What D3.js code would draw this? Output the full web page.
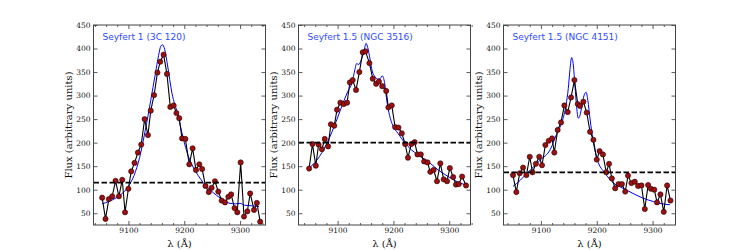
<!DOCTYPE html>
<html>
<head>
<meta charset="utf-8">
<script src="https://cdn.jsdelivr.net/npm/d3@7"></script>
<style>
  body { margin: 0; background: #fff; }
  svg { display: block; }
</style>
</head>
<body>
<svg id="chart" width="750" height="250"></svg>
<script>
// --- data ---
const titles = ['Seyfert 1 (3C 120)', 'Seyfert 1.5 (NGC 3516)', 'Seyfert 1.5 (NGC 4151)'];

const lambda1 = [9053, 9059, 9065, 9071, 9077, 9083, 9089, 9094, 9100, 9105, 9111, 9117, 9123, 9129, 9135, 9140, 9146, 9152, 9157, 9163, 9169, 9175, 9181, 9186, 9191, 9196, 9202, 9209, 9215, 9221, 9227, 9232, 9238, 9244, 9249, 9255, 9261, 9267, 9273, 9279, 9284, 9290, 9295, 9301, 9307, 9313, 9318, 9325, 9330, 9336];
const flux1 = [83, 38, 80, 86, 119, 86, 121, 52, 102, 139, 157, 179, 196, 250, 216, 268, 301, 349, 372, 387, 346, 276, 279, 263, 252, 209, 208, 154, 188, 142, 154, 144, 108, 95, 104, 118, 96, 77, 73, 85, 90, 61, 52, 158, 43, 54, 92, 57, 72, 32];

const lambda2 = [9049, 9055, 9061, 9066, 9072, 9077, 9083, 9088, 9094, 9099, 9105, 9111, 9117, 9122, 9127, 9133, 9139, 9145, 9150, 9157, 9163, 9169, 9174, 9180, 9187, 9191, 9197, 9203, 9209, 9215, 9221, 9226, 9232, 9238, 9243, 9249, 9255, 9261, 9266, 9272, 9278, 9284, 9290, 9296, 9301, 9307, 9312, 9317, 9323, 9330];
const flux2 = [145, 197, 151, 196, 186, 208, 192, 239, 236, 270, 285, 282, 285, 328, 333, 312, 350, 392, 394, 369, 336, 325, 330, 320, 310, 275, 279, 233, 232, 220, 197, 168, 197, 201, 175, 175, 160, 158, 138, 142, 118, 156, 122, 118, 146, 127, 111, 112, 128, 109];

const lambda3 = [9050, 9056, 9062, 9068, 9074, 9080, 9085, 9091, 9097, 9102, 9108, 9114, 9120, 9124, 9130, 9136, 9142, 9148, 9154, 9160, 9166, 9170, 9176, 9182, 9188, 9194, 9200, 9205, 9211, 9217, 9222, 9227, 9233, 9239, 9245, 9251, 9256, 9262, 9268, 9274, 9280, 9286, 9292, 9297, 9303, 9308, 9314, 9320, 9326, 9332];
const flux3 = [131, 95, 135, 147, 131, 170, 137, 155, 170, 152, 195, 204, 209, 179, 227, 243, 279, 265, 296, 333, 282, 278, 287, 264, 223, 206, 164, 182, 175, 137, 155, 124, 103, 112, 112, 96, 130, 114, 117, 108, 109, 59, 110, 102, 100, 73, 90, 53, 109, 77];

// blue model curves
const fitLambda1 = [9053, 9065, 9080, 9090, 9100, 9110, 9120, 9130, 9140, 9148, 9154, 9158, 9161, 9165, 9170, 9178, 9188, 9198, 9207, 9216, 9225, 9234, 9246, 9258, 9270, 9282, 9292, 9300, 9308, 9320, 9334];
const fitFlux1 = [70, 75, 84, 93, 107, 130, 168, 225, 290, 345, 385, 405, 408, 398, 365, 305, 262, 210, 172, 148, 130, 115, 100, 88, 78, 71, 70, 71, 67, 66, 64];

const fitLambda2 = [9049, 9063, 9081, 9099, 9110, 9118, 9126, 9131, 9134, 9138, 9142, 9147, 9151, 9154, 9158, 9162, 9167, 9172, 9176, 9180, 9184, 9188, 9193, 9199, 9208, 9220, 9232, 9244, 9262, 9280, 9298, 9316, 9330];
const fitFlux2 = [146, 163, 199, 250, 285, 308, 328, 355, 368, 366, 375, 393, 411, 402, 378, 352, 340, 335, 336, 342, 328, 290, 258, 236, 220, 200, 185, 174, 160, 142, 128, 116, 110];

const fitLambda3 = [9050, 9063, 9081, 9099, 9117, 9128, 9138, 9145, 9149, 9152, 9155, 9158, 9161, 9164, 9167, 9170, 9174, 9178, 9181, 9184, 9188, 9194, 9201, 9215, 9230, 9247, 9265, 9283, 9301, 9313, 9331];
const fitFlux3 = [107, 120, 142, 163, 186, 218, 245, 280, 315, 355, 381, 365, 320, 275, 252, 258, 282, 303, 307, 290, 250, 200, 164, 135, 114, 103, 92, 82, 75, 71, 68];

const continuumLevels = [115, 200, 137];

const xLimits = [[9037.5, 9345.5], [9030, 9338], [9033, 9341]];
const yLimits = [25, 450];
const xMajorTicks = [9100, 9200, 9300];
const xMinorTicks = [9040, 9060, 9080, 9120, 9140, 9160, 9180, 9220, 9240, 9260, 9280, 9320, 9340];
const yTicks = [50, 100, 150, 200, 250, 300, 350, 400, 450];

// --- layout ---
const panelLefts = [93.5, 298.5, 503.5];
const panelW = 172;
const plotTop = 25, plotBottom = 225;
const serif = '"DejaVu Serif", serif';

const panels = [
    { lam: lambda1, flux: flux1, fitLam: fitLambda1, fitFlux: fitFlux1 },
    { lam: lambda2, flux: flux2, fitLam: fitLambda2, fitFlux: fitFlux2 },
    { lam: lambda3, flux: flux3, fitLam: fitLambda3, fitFlux: fitFlux3 }
];

const svg = d3.select('#chart');
svg.append('rect').attr('width', 750).attr('height', 250).attr('fill', '#fff');

panels.forEach((p, i) => {
    const x0 = panelLefts[i];
    const h = plotBottom - plotTop;
    const x = d3.scaleLinear().domain(xLimits[i]).range([0, panelW]);
    const y = d3.scaleLinear().domain(yLimits).range([h, 0]);

    const g = svg.append('g').attr('transform', `translate(${x0},${plotTop})`);

    const clipId = 'clip' + i;
    g.append('clipPath').attr('id', clipId)
        .append('rect').attr('width', panelW).attr('height', h);
    const plot = g.append('g').attr('clip-path', `url(#${clipId})`);

    // blue model
    const fit = p.fitLam.map((l, k) => [l, p.fitFlux[k]]);
    plot.append('path')
        .datum(fit)
        .attr('fill', 'none')
        .attr('stroke', '#0000ff')
        .attr('stroke-width', 1)
        .attr('d', d3.line().x(d => x(d[0])).y(d => y(d[1])).curve(d3.curveMonotoneX));

    // observed spectrum
    const obs = p.lam.map((l, k) => [l, p.flux[k]]);
    plot.append('path')
        .datum(obs)
        .attr('fill', 'none')
        .attr('stroke', '#000')
        .attr('stroke-width', 1.1)
        .attr('d', d3.line().x(d => x(d[0])).y(d => y(d[1])));
    plot.selectAll('circle.pt')
        .data(obs)
        .enter().append('circle')
        .attr('class', 'pt')
        .attr('cx', d => x(d[0]))
        .attr('cy', d => y(d[1]))
        .attr('r', 2.6)
        .attr('fill', '#9b1010')
        .attr('stroke', '#2a0000')
        .attr('stroke-width', 0.6);

    // continuum level
    plot.append('line')
        .attr('x1', 0).attr('x2', panelW)
        .attr('y1', y(continuumLevels[i])).attr('y2', y(continuumLevels[i]))
        .attr('stroke', '#000')
        .attr('stroke-width', 1.7)
        .attr('stroke-dasharray', '5.5,2.5');

    // axes, ticks pointing inward on all four sides
    const axisStyle = sel => {
        sel.select('.domain').remove();
        sel.selectAll('line').attr('stroke', '#333').attr('stroke-width', 0.8);
        sel.selectAll('text').attr('font-family', serif).attr('font-size', 7.5).attr('fill', '#111');
    };
    g.append('g').attr('transform', `translate(0,${h})`)
        .call(d3.axisBottom(x).tickValues(xMinorTicks).tickSize(-2).tickFormat(''))
        .call(axisStyle);
    g.append('g').attr('transform', `translate(0,${h})`)
        .call(d3.axisBottom(x).tickValues(xMajorTicks).tickSize(-4).tickPadding(2.5).tickFormat(d3.format('d')))
        .call(axisStyle);
    g.append('g')
        .call(d3.axisTop(x).tickValues(xMinorTicks).tickSize(-2).tickFormat(''))
        .call(axisStyle);
    g.append('g')
        .call(d3.axisTop(x).tickValues(xMajorTicks).tickSize(-4).tickFormat(''))
        .call(axisStyle);
    g.append('g')
        .call(d3.axisLeft(y).tickValues(yTicks).tickSize(-4).tickPadding(3).tickFormat(d3.format('d')))
        .call(axisStyle);
    g.append('g').attr('transform', `translate(${panelW},0)`)
        .call(d3.axisRight(y).tickValues(yTicks).tickSize(-4).tickFormat(''))
        .call(axisStyle);

    g.append('rect')
        .attr('width', panelW).attr('height', h)
        .attr('fill', 'none')
        .attr('stroke', '#444')
        .attr('stroke-width', 1);

    // title inside the frame
    g.append('text')
        .attr('x', 9).attr('y', 15)
        .attr('font-family', '"DejaVu Sans", sans-serif')
        .attr('font-size', 9)
        .attr('fill', '#2f4cff')
        .text(titles[i]);

    // axis labels
    g.append('text')
        .attr('x', panelW / 2).attr('y', h + 22)
        .attr('text-anchor', 'middle')
        .attr('font-family', serif)
        .attr('font-size', 10)
        .attr('fill', '#111')
        .text('λ (Å)');
    g.append('text')
        .attr('transform', `translate(-22,${h / 2}) rotate(-90)`)
        .attr('text-anchor', 'middle')
        .attr('font-family', serif)
        .attr('font-size', 10)
        .attr('fill', '#111')
        .text('Flux (arbitrary units)');
});
</script>
</body>
</html>
